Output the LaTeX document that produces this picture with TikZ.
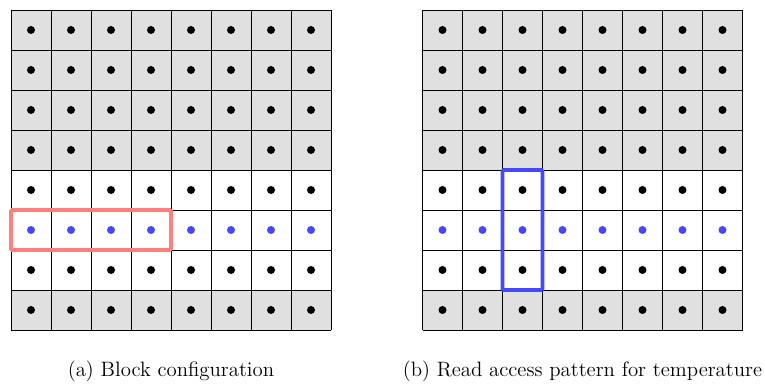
\documentclass[tikz,border=0pt]{standalone}
\usepackage{xcolor}

\definecolor{dotblue}{HTML}{4747FF}
\definecolor{framepink}{HTML}{FF7F7F}
\definecolor{cellgray}{HTML}{E0E0E0}

\begin{document}
\begin{tikzpicture}[
        x=1cm, y=1cm,
        gridline/.style={draw=black, line width=0.65pt},
        halo/.style={fill=cellgray},
        pt/.style={circle, fill=black, inner sep=0pt, minimum size=0.2cm},
        hot/.style={pt, fill=dotblue},
        frame/.style={line width=2.8pt, rounded corners=1pt},
        font=\fontsize{14.8}{18}\selectfont
    ]
    \useasboundingbox (0,0) rectangle (19.125,9.625);

    % (a) block configuration
    \begin{scope}[shift={(0.275,1.375)}]
        \fill[halo] (0,0) rectangle (8,1);
        \fill[halo] (0,4) rectangle (8,8);
        \draw[gridline] (0,0) grid (8,8);
        \foreach \c in {0,...,7} {
            \foreach \r in {0,1,3,4,5,6,7}
                \node[pt] (a-\c-\r) at (\c+0.5,\r+0.5) {};
            \node[hot] (a-\c-2) at (\c+0.5,2.5) {};
        }
        % block
        \draw[frame, framepink] (0,2) rectangle (4,3);
        \node (capa) at (4,-1.025) {(a) Block configuration};
    \end{scope}

    % (b) read access pattern
    \begin{scope}[shift={(10.5625,1.375)}]
        \fill[halo] (0,0) rectangle (8,1);
        \fill[halo] (0,4) rectangle (8,8);
        \draw[gridline] (0,0) grid (8,8);
        \foreach \c in {0,...,7} {
            \foreach \r in {0,1,3,4,5,6,7}
                \node[pt] (b-\c-\r) at (\c+0.5,\r+0.5) {};
            \node[hot] (b-\c-2) at (\c+0.5,2.5) {};
        }
        % stencil
        \draw[frame, dotblue] (2,1) rectangle (3,4);
        \node (capb) at (4,-1.025) {(b) Read access pattern for temperature};
    \end{scope}
\end{tikzpicture}
\end{document}
